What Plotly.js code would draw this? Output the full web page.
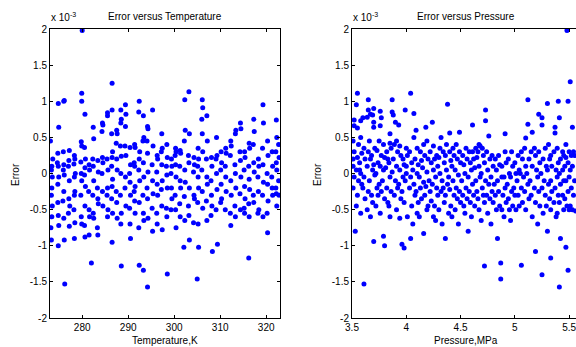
<!DOCTYPE html>
<html>
<head>
<meta charset="utf-8">
<script src="https://cdn.plot.ly/plotly-3.0.1.min.js"></script>
<style>
html,body{margin:0;padding:0;overflow:hidden;background:#fff;width:576px;height:347px;}
#chart{width:600px;height:347px;}
</style>
</head>
<body>
<div id="chart"></div>
<script>
// Error values are in units of 1e-3 (axis shows "x 10^-3")
const tempSamples = [
[273.1,0.45],[273.4,0.1],[273.3,0.05],[273.5,-0.05],[273.4,-0.2],[273.3,-0.3],[273.5,-0.45],[273.4,-0.6],[273.2,-0.75],[273.3,-0.92],[273.6,0.2],
[274.8,0.97],[274.9,0.64],[274.7,0.28],[274.8,0.1],[274.9,-0.05],[274.7,-0.4],[274.8,-0.58],[274.9,-0.72],[274.8,-1.0],[274.6,0.15],[274.7,-0.15],
[276.0,1.0],[276.1,1.01],[276.0,0.12],[275.9,0.3],[276.1,-0.02],[276.0,-0.25],[275.8,-0.38],[276.0,-0.62],[276.1,-0.92],[276.2,-1.53],[275.9,0.05],
[277.2,0.32],[277.1,0.18],[277.0,0.1],[277.2,-0.1],[277.1,-0.35],[277.3,-0.45],[277.2,-0.73],[277.0,-0.55],
[278.3,0.25],[278.4,0.2],[278.2,0.13],[278.3,-0.05],[278.4,-0.25],[278.3,-0.3],[278.2,-0.5],[278.4,-0.68],[278.3,-0.9],[278.5,0.0],
[279.9,1.11],[279.9,1.0],[279.8,0.44],[279.9,0.38],[279.7,0.16],[279.8,0.0],[279.9,-0.1],[279.7,-0.3],[279.8,-0.6],[279.9,-0.7],
[280.0,1.98],[280.6,0.82],[280.5,0.36],[280.7,0.2],[280.6,0.08],[280.5,-0.02],[280.7,-0.18],[280.6,-0.45],[280.5,-0.72],[280.6,-0.88],
[281.5,0.12],[281.6,0.05],[281.4,-0.25],[281.5,-0.5],[281.6,-0.6],[281.5,-0.85],
[282.4,0.64],[282.5,0.48],[282.3,0.2],[282.4,0.1],[282.5,-0.1],[282.3,-0.3],[282.4,-0.55],[282.5,-0.62],[282.0,-1.24],
[283.4,0.18],[283.5,0.02],[283.3,-0.2],[283.4,-0.35],[283.5,-0.42],[283.3,-0.75],[283.4,-0.85],
[284.4,0.7],[284.5,0.67],[284.3,0.58],[284.4,0.22],[284.5,0.15],[284.3,0.0],[284.4,-0.25],[284.5,-0.45],
[285.5,0.84],[285.5,0.8],[285.4,0.2],[285.6,0.05],[285.5,-0.2],[285.4,-0.3],[285.6,-0.5],[285.5,-0.6],
[286.5,1.25],[286.5,0.88],[286.4,0.55],[286.6,0.3],[286.5,0.22],[286.4,0.1],[286.6,-0.08],[286.5,-0.18],[286.4,-0.35],[286.6,-0.55],[286.5,-0.95],
[287.5,0.6],[287.6,0.55],[287.4,0.42],[287.5,0.2],[287.6,0.05],[287.4,-0.25],[287.5,-0.4],[287.6,-0.62],
[288.4,0.88],[288.5,0.75],[288.4,0.7],[288.3,0.38],[288.5,0.24],[288.4,0.0],[288.3,-0.3],[288.5,-0.55],[288.4,-0.7],[288.5,-1.28],
[289.4,0.95],[289.5,0.82],[289.4,0.65],[289.3,0.38],[289.5,0.25],[289.4,-0.05],[289.3,-0.2],[289.5,-0.45],
[290.4,0.36],[290.5,0.12],[290.3,0.0],[290.4,-0.12],[290.5,-0.3],[290.3,-0.48],[290.4,-0.7],[290.5,-0.9],
[291.4,0.4],[291.5,0.36],[291.3,0.15],[291.4,0.1],[291.5,-0.18],[291.3,-0.25],[291.4,-0.38],[291.5,-0.55],
[292.4,1.0],[292.3,0.85],[292.5,0.3],[292.4,0.2],[292.3,0.05],[292.5,-0.1],[292.4,-0.4],[292.3,-0.75],[292.4,-1.27],
[293.3,0.8],[293.4,0.5],[293.2,0.45],[293.3,0.15],[293.4,-0.05],[293.2,-0.3],[293.3,-0.55],[293.4,-0.65],[293.3,-1.34],
[294.2,0.65],[294.3,0.62],[294.1,0.45],[294.2,0.28],[294.3,0.02],[294.1,-0.2],[294.2,-0.35],[294.3,-0.62],[294.2,-1.57],
[295.3,0.88],[295.4,0.38],[295.2,0.12],[295.3,-0.1],[295.4,-0.28],[295.2,-0.48],[295.3,-0.8],
[296.3,0.25],[296.4,0.2],[296.2,0.02],[296.3,-0.15],[296.4,-0.3],[296.2,-0.55],[296.3,-0.7],
[297.3,0.55],[297.4,0.35],[297.2,0.3],[297.3,0.12],[297.4,-0.1],[297.2,-0.22],[297.3,-0.45],[297.4,-0.78],
[298.4,0.4],[298.5,0.22],[298.3,0.1],[298.4,-0.02],[298.5,-0.2],[298.3,-0.48],[298.4,-0.6],[298.5,-1.39],
[299.4,0.2],[299.5,0.1],[299.3,0.0],[299.4,-0.2],[299.5,-0.35],[299.3,-0.5],
[300.3,0.35],[300.4,0.3],[300.2,0.25],[300.3,0.12],[300.4,-0.05],[300.2,-0.3],[300.3,-0.5],[300.4,-0.75],
[301.3,0.32],[301.4,0.28],[301.2,0.1],[301.3,-0.1],[301.4,-0.2],[301.2,-0.42],[301.3,-0.6],
[302.3,1.02],[302.4,0.6],[302.2,0.45],[302.3,0.05],[302.4,-0.12],[302.2,-0.32],[302.3,-0.65],[302.1,-1.02],
[303.2,1.13],[303.3,0.55],[303.1,0.25],[303.2,0.15],[303.3,-0.2],[303.1,-0.45],[303.2,-0.58],[303.3,-0.92],
[304.3,0.22],[304.4,0.12],[304.2,0.02],[304.3,-0.3],[304.4,-0.35],[304.2,-0.68],
[305.2,0.35],[305.3,0.2],[305.1,0.1],[305.2,-0.05],[305.3,-0.2],[305.1,-0.4],[305.2,-0.7],[305.3,-1.02],[305.0,-1.46],
[306.1,1.02],[306.2,0.91],[306.0,0.75],[306.1,0.55],[306.2,0.3],[306.0,0.05],[306.1,-0.25],[306.2,-0.48],
[307.1,0.8],[307.2,0.45],[307.0,0.2],[307.1,-0.05],[307.2,-0.15],[307.0,-0.38],[307.1,-0.65],
[308.1,0.22],[308.2,0.1],[308.0,-0.1],[308.1,-0.3],[308.2,-0.45],[308.0,-0.58],[308.3,-1.08],
[309.2,0.5],[309.3,0.25],[309.1,0.2],[309.2,0.0],[309.3,-0.22],[309.1,-0.5],[309.4,-0.98],
[310.2,0.3],[310.3,0.15],[310.1,0.05],[310.2,-0.15],[310.3,-0.35],[310.1,-0.4],
[311.2,0.35],[311.3,0.28],[311.1,0.1],[311.2,-0.05],[311.3,-0.25],[311.1,-0.5],
[312.3,0.45],[312.4,0.38],[312.2,0.25],[312.3,-0.1],[312.4,-0.3],[312.2,-0.55],[312.3,-0.72],
[313.3,0.55],[313.4,0.6],[313.2,0.12],[313.3,0.0],[313.4,-0.2],[313.2,-0.45],[313.3,-0.6],
[314.4,0.7],[314.5,0.62],[314.3,0.3],[314.4,0.18],[314.5,-0.05],[314.3,-0.28],[314.4,-0.5],
[315.3,0.3],[315.4,0.22],[315.2,0.05],[315.3,-0.18],[315.4,-0.35],[315.2,-0.48],[315.3,-0.55],
[316.3,0.42],[316.4,0.35],[316.2,0.1],[316.3,-0.08],[316.4,-0.22],[316.2,-0.42],[316.3,-0.6],[316.2,-1.17],
[317.3,0.75],[317.4,0.58],[317.2,0.4],[317.3,0.15],[317.4,0.02],[317.2,-0.3],[317.3,-0.4],
[318.3,0.2],[318.4,0.1],[318.2,-0.05],[318.3,-0.25],[318.4,-0.5],[318.2,-0.55],
[319.3,0.95],[319.4,0.7],[319.2,0.35],[319.3,0.12],[319.4,-0.12],[319.2,-0.3],[319.3,-0.6],
[320.3,0.45],[320.4,0.25],[320.2,0.0],[320.3,-0.15],[320.4,-0.38],[320.2,-0.55],[320.3,-0.82],
[321.3,0.3],[321.4,0.1],[321.2,-0.05],[321.3,-0.2],[321.4,-0.3],
[322.2,0.74],[322.3,0.5],[322.1,0.3],[322.2,0.15],[322.3,0.05],[322.1,-0.2],[322.2,-0.28],[322.3,-0.45],
[322.7,0.4],[322.8,0.22],[322.7,-0.1],[322.8,-0.3]
];

const pressSamples = [
[3.52,0.74],[3.52,0.66],[3.51,0.45],[3.52,0.3],[3.51,0.1],[3.52,-0.05],[3.51,-0.2],[3.53,-0.8],[3.51,0.2],
[3.55,1.11],[3.54,0.95],[3.55,0.63],[3.56,0.4],[3.55,0.22],[3.54,0.05],[3.56,-0.1],[3.55,-0.3],[3.54,-0.45],
[3.58,0.73],[3.58,0.5],[3.59,0.28],[3.57,0.15],[3.58,0.0],[3.59,-0.15],[3.58,-0.55],[3.57,0.05],
[3.60,0.77],[3.61,0.35],[3.62,0.2],[3.61,-0.05],[3.60,-0.2],[3.62,-0.35],[3.61,-1.53],
[3.65,1.02],[3.65,0.88],[3.64,0.78],[3.66,0.45],[3.65,0.3],[3.64,0.1],[3.66,-0.1],[3.65,-0.25],[3.64,-0.5],
[3.67,0.82],[3.69,0.81],[3.68,0.25],[3.67,0.2],[3.69,0.05],[3.68,-0.3],[3.67,-0.6],
[3.70,0.9],[3.70,0.71],[3.70,0.64],[3.71,0.35],[3.70,0.12],[3.71,-0.02],[3.69,-0.4],[3.70,-0.94],
[3.73,0.32],[3.74,0.15],[3.72,0.0],[3.73,-0.2],[3.74,-0.3],[3.72,-0.45],
[3.76,0.86],[3.76,0.66],[3.75,0.45],[3.77,0.25],[3.76,0.1],[3.75,-0.15],[3.77,-0.25],[3.76,-0.55],
[3.77,0.77],[3.79,0.4],[3.80,0.22],[3.79,0.05],[3.78,-0.1],[3.80,-0.35],[3.79,-0.87],
[3.82,0.3],[3.83,0.2],[3.81,0.08],[3.82,-0.2],[3.83,-0.4],[3.80,-1.0],
[3.85,0.55],[3.85,0.42],[3.86,0.35],[3.84,0.15],[3.85,-0.05],[3.86,-0.25],[3.84,-0.45],[3.85,-0.6],
[3.87,1.02],[3.87,0.85],[3.88,0.81],[3.89,0.4],[3.88,0.2],[3.87,0.02],[3.89,-0.3],
[3.90,0.71],[3.91,0.45],[3.92,0.3],[3.91,0.1],[3.90,-0.1],[3.92,-0.2],[3.91,-0.5],
[3.93,0.67],[3.94,0.38],[3.95,0.25],[3.94,0.05],[3.93,-0.15],[3.95,-0.35],[3.94,-0.62],
[3.97,0.2],[3.98,0.12],[3.97,-0.05],[3.96,-0.25],[3.98,-0.4],[3.96,-0.98],
[3.99,0.88],[4.00,0.35],[4.01,0.25],[4.00,0.1],[3.99,-0.1],[4.01,-0.6],[3.98,-1.03],[4.00,0.0],
[4.04,1.11],[4.03,0.3],[4.05,0.15],[4.04,-0.05],[4.03,-0.2],[4.05,-0.45],[4.04,-0.9],
[4.07,0.83],[4.07,0.5],[4.08,0.2],[4.06,0.05],[4.07,-0.15],[4.08,-0.3],[4.06,-0.7],
[4.09,0.6],[4.10,0.35],[4.11,0.12],[4.10,0.0],[4.09,-0.25],[4.11,-0.4],[4.10,-0.55],
[4.13,0.3],[4.14,0.18],[4.12,-0.05],[4.13,-0.2],[4.14,-0.35],[4.12,-0.6],
[4.16,0.4],[4.17,0.25],[4.15,0.08],[4.16,-0.12],[4.17,-0.3],[4.16,-0.83],
[4.18,0.64],[4.19,0.45],[4.20,0.2],[4.19,0.02],[4.18,-0.18],[4.20,-0.45],[4.19,-0.5],
[4.22,0.3],[4.23,0.15],[4.21,-0.1],[4.22,-0.25],[4.23,-0.38],
[4.24,0.71],[4.25,0.38],[4.26,0.2],[4.25,0.05],[4.24,-0.15],[4.26,-0.45],[4.25,-0.6],
[4.28,0.25],[4.29,0.1],[4.27,-0.05],[4.28,-0.2],[4.29,-0.3],[4.27,-0.65],
[4.32,0.5],[4.31,0.35],[4.30,0.22],[4.31,0.0],[4.32,-0.25],[4.30,-0.5],
[4.34,0.3],[4.35,0.15],[4.33,-0.1],[4.34,-0.2],[4.35,-0.4],[4.33,-0.7],
[4.38,0.96],[4.37,0.4],[4.36,0.25],[4.37,0.05],[4.38,-0.15],[4.36,-0.3],[4.36,-0.9],
[4.40,0.56],[4.40,0.3],[4.41,0.18],[4.39,-0.05],[4.40,-0.22],[4.41,-0.45],[4.39,-0.55],
[4.43,0.35],[4.44,0.25],[4.42,0.1],[4.43,-0.1],[4.44,-0.3],[4.42,-0.6],
[4.46,0.4],[4.47,0.2],[4.45,0.05],[4.46,-0.2],[4.47,-0.35],[4.45,-0.5],
[4.49,0.57],[4.49,0.3],[4.50,0.15],[4.48,-0.02],[4.49,-0.25],[4.50,-0.4],[4.48,-0.7],
[4.52,0.25],[4.53,0.12],[4.51,-0.1],[4.52,-0.3],[4.53,-0.45],
[4.55,0.35],[4.56,0.2],[4.54,0.0],[4.55,-0.2],[4.56,-0.35],[4.54,-0.55],
[4.58,0.3],[4.59,0.15],[4.57,-0.05],[4.58,-0.25],[4.59,-0.4],[4.57,-0.8],
[4.61,0.67],[4.61,0.3],[4.62,0.2],[4.60,0.05],[4.61,-0.15],[4.62,-0.3],[4.60,-0.6],
[4.64,0.35],[4.65,0.22],[4.63,0.08],[4.64,-0.1],[4.65,-0.25],[4.63,-0.45],
[4.67,0.4],[4.68,0.38],[4.66,0.3],[4.67,0.1],[4.68,-0.05],[4.66,-0.35],[4.67,-0.5],
[4.70,0.35],[4.71,0.25],[4.69,0.0],[4.70,-0.2],[4.71,-0.3],[4.69,-0.65],
[4.73,0.88],[4.73,0.73],[4.74,0.3],[4.72,0.15],[4.73,-0.1],[4.74,-0.3],[4.72,-0.4],[4.72,-1.28],
[4.76,0.52],[4.77,0.2],[4.75,0.05],[4.76,-0.15],[4.77,-0.35],[4.75,-0.55],
[4.79,0.25],[4.80,0.1],[4.78,-0.05],[4.79,-0.25],[4.80,-0.4],[4.78,-0.7],
[4.82,0.2],[4.83,0.05],[4.81,-0.15],[4.82,-0.3],[4.83,-0.5],
[4.85,0.25],[4.86,0.12],[4.84,-0.1],[4.85,-0.25],[4.86,-0.45],[4.84,-0.9],
[4.88,0.1],[4.88,-0.05],[4.89,-0.3],[4.88,-0.5],[4.87,-1.24],[4.87,-1.46],
[4.91,0.55],[4.91,0.3],[4.92,0.15],[4.90,-0.05],[4.91,-0.2],[4.92,-0.4],[4.90,-0.6],
[4.94,0.2],[4.95,0.0],[4.93,-0.15],[4.94,-0.35],[4.95,-0.5],
[4.97,0.3],[4.98,0.1],[4.96,-0.05],[4.97,-0.25],[4.98,-0.45],[4.96,-0.65],
[5.00,0.15],[5.01,0.0],[4.99,-0.2],[5.00,-0.3],[5.01,-0.5],
[5.03,0.25],[5.04,0.05],[5.02,-0.1],[5.03,-0.3],[5.04,-0.45],
[5.06,0.3],[5.07,0.2],[5.05,0.0],[5.06,-0.2],[5.07,-0.4],[5.06,-1.27],
[5.10,0.49],[5.09,0.35],[5.10,0.1],[5.08,-0.05],[5.09,-0.25],[5.10,-0.5],
[5.12,1.02],[5.12,0.68],[5.13,0.2],[5.11,0.0],[5.12,-0.15],[5.13,-0.35],
[5.16,0.57],[5.15,0.3],[5.16,0.1],[5.14,-0.1],[5.15,-0.3],[5.16,-0.6],
[5.18,0.35],[5.19,0.25],[5.20,0.05],[5.18,-0.2],[5.19,-0.4],[5.19,-1.08],
[5.22,0.82],[5.22,0.3],[5.23,0.15],[5.21,-0.05],[5.22,-0.25],[5.23,-0.45],[5.21,-0.7],
[5.25,0.77],[5.25,0.67],[5.26,0.2],[5.24,0.0],[5.25,-0.2],[5.26,-0.55],[5.25,-1.4],
[5.28,0.35],[5.29,0.1],[5.27,-0.1],[5.28,-0.3],[5.29,-0.45],
[5.30,0.97],[5.31,0.4],[5.32,0.2],[5.30,0.05],[5.31,-0.15],[5.32,-0.35],[5.30,-0.8],
[5.33,0.25],[5.34,0.1],[5.33,-0.1],[5.34,-0.25],[5.33,-0.5],[5.33,-1.17],
[5.37,0.64],[5.37,0.56],[5.36,0.3],[5.38,0.05],[5.37,-0.2],[5.36,-0.4],[5.38,-0.6],
[5.39,0.35],[5.40,0.15],[5.39,-0.05],[5.40,-0.3],[5.39,-0.55],
[5.40,1.0],[5.41,0.77],[5.42,0.2],[5.41,0.0],[5.42,-0.15],[5.41,-0.4],[5.42,-0.9],[5.41,-1.57],
[5.44,0.3],[5.45,0.25],[5.44,0.05],[5.45,-0.1],[5.44,-0.3],[5.45,-0.5],
[5.47,0.4],[5.47,0.22],[5.46,0.1],[5.47,-0.1],[5.46,-0.35],[5.48,-0.45],[5.47,-1.02],
[5.48,1.98],
[5.49,1.0],[5.50,0.3],[5.49,0.15],[5.50,-0.05],[5.49,-0.25],[5.50,-0.5],[5.49,-1.34],
[5.51,1.27],[5.52,0.25],[5.51,0.05],[5.52,-0.2],[5.51,-0.45],
[5.53,0.64],[5.54,0.3],[5.53,0.1],[5.54,-0.3],[5.53,-0.5],
[5.55,0.25],[5.55,-0.1],[5.56,-0.52]
];

const tempTicks = [280, 290, 300, 310, 320];
const pressTicks = [3.5, 4, 4.5, 5, 5.5];
const pressTickText = ['3.5', '4', '4.5', '5', '5.5'];
const errTicks = [-2, -1.5, -1, -0.5, 0, 0.5, 1, 1.5, 2];
const errTickText = ['-2', '-1.5', '-1', '-0.5', '0', '0.5', '1', '1.5', '2'];

const FONT = 'Liberation Sans, Arial, sans-serif';
const W = 600, H = 347;
const px = v => v / W;
const py = v => 1 - v / H;

const marker = {color: '#0000ff', size: 5, line: {width: 0}};
const traces = [
  {x: tempSamples.map(p => p[0]), y: tempSamples.map(p => p[1]), type: 'scatter', mode: 'markers', marker: marker, xaxis: 'x', yaxis: 'y', cliponaxis: true},
  {x: pressSamples.map(p => p[0]), y: pressSamples.map(p => p[1]), type: 'scatter', mode: 'markers', marker: marker, xaxis: 'x2', yaxis: 'y2', cliponaxis: true}
];

const axisBase = {
  showgrid: false, zeroline: false, showline: true, linecolor: '#000', linewidth: 1,
  mirror: 'ticks', ticks: 'inside', ticklen: 3, tickcolor: '#000', tickwidth: 1,
  tickfont: {family: FONT, size: 10, color: '#000'}, fixedrange: true
};

const yDomain = [(H - 318) / H, (H - 29) / H];

const layout = {
  width: W, height: H,
  margin: {l: 0, r: 0, t: 0, b: 0},
  paper_bgcolor: '#fff', plot_bgcolor: '#fff',
  showlegend: false,
  xaxis: Object.assign({}, axisBase, {domain: [px(50), px(280)], range: [273, 323], tickmode: 'array', tickvals: tempTicks, ticktext: tempTicks.map(String), anchor: 'y'}),
  yaxis: Object.assign({}, axisBase, {domain: yDomain, range: [-2, 2], tickmode: 'array', tickvals: errTicks, ticktext: errTickText, anchor: 'x'}),
  xaxis2: Object.assign({}, axisBase, {domain: [px(352), px(580)], range: [3.5, 5.6], tickmode: 'array', tickvals: pressTicks, ticktext: pressTickText, anchor: 'y2'}),
  yaxis2: Object.assign({}, axisBase, {domain: yDomain, range: [-2, 2], tickmode: 'array', tickvals: errTicks, ticktext: errTickText, anchor: 'x2'}),
  annotations: [
    {text: 'Error versus Temperature', xref: 'paper', yref: 'paper', x: px(165), y: py(16), xanchor: 'center', yanchor: 'middle', showarrow: false, font: {family: FONT, size: 10, color: '#000'}},
    {text: 'Error versus Pressure', xref: 'paper', yref: 'paper', x: px(466), y: py(16), xanchor: 'center', yanchor: 'middle', showarrow: false, font: {family: FONT, size: 10, color: '#000'}},
    {text: 'x 10<sup>-3</sup>', xref: 'paper', yref: 'paper', x: px(49), y: py(17), xanchor: 'left', yanchor: 'middle', showarrow: false, font: {family: FONT, size: 10, color: '#000'}},
    {text: 'x 10<sup>-3</sup>', xref: 'paper', yref: 'paper', x: px(351), y: py(17), xanchor: 'left', yanchor: 'middle', showarrow: false, font: {family: FONT, size: 10, color: '#000'}},
    {text: 'Temperature,K', xref: 'paper', yref: 'paper', x: px(165), y: py(340), xanchor: 'center', yanchor: 'middle', showarrow: false, font: {family: FONT, size: 10, color: '#000'}},
    {text: 'Pressure,MPa', xref: 'paper', yref: 'paper', x: px(466), y: py(340), xanchor: 'center', yanchor: 'middle', showarrow: false, font: {family: FONT, size: 10, color: '#000'}},
    {text: 'Error', xref: 'paper', yref: 'paper', x: px(15), y: py(175), xanchor: 'center', yanchor: 'middle', textangle: -90, showarrow: false, font: {family: FONT, size: 10, color: '#000'}},
    {text: 'Error', xref: 'paper', yref: 'paper', x: px(317), y: py(175), xanchor: 'center', yanchor: 'middle', textangle: -90, showarrow: false, font: {family: FONT, size: 10, color: '#000'}}
  ]
};

Plotly.newPlot('chart', traces, layout, {staticPlot: true, displayModeBar: false});
</script>
</body>
</html>
